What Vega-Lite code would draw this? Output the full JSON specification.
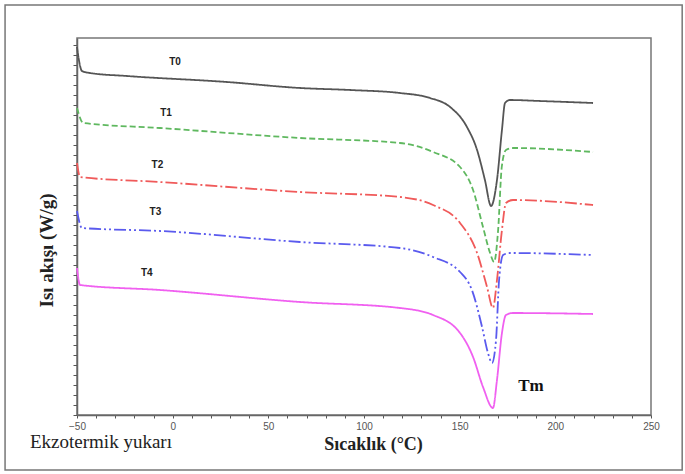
{
  "$schema": "https://vega.github.io/schema/vega-lite/v6.json",
  "width": 574,
  "height": 377,
  "autosize": "none",
  "padding": {"left": 77, "top": 38, "right": 34, "bottom": 59},
  "background": "white",
  "title": {"text": "Ekzotermik yukarı", "orient": "bottom", "anchor": "start", "frame": "group", "dx": -47, "dy": -42, "font": "Liberation Serif", "fontSize": 19, "fontWeight": "normal", "color": "#222"},
  "config": {"view": {"stroke": "#777", "strokeWidth": 1.5}},
  "datasets": {
    "curves": [
      {"s":"T0","t":-50,"v":36.8},{"s":"T0","t":-49,"v":35.5},{"s":"T0","t":-47.4,"v":34.4},{"s":"T0","t":-43.2,"v":34.2},{"s":"T0","t":-23.9,"v":33.9},{"s":"T0","t":28.4,"v":33.3},{"s":"T0","t":66.6,"v":32.7},{"s":"T0","t":92.7,"v":32.5},{"s":"T0","t":118.8,"v":32.2},{"s":"T0","t":134.5,"v":31.7},{"s":"T0","t":145.0,"v":30.8},{"s":"T0","t":153.8,"v":28.8},{"s":"T0","t":159.1,"v":26.5},{"s":"T0","t":163.2,"v":23.5},{"s":"T0","t":166.4,"v":20.9},{"s":"T0","t":169.5,"v":23.5},{"s":"T0","t":172.1,"v":28.5},{"s":"T0","t":173.7,"v":31.2},{"s":"T0","t":176.3,"v":31.5},{"s":"T0","t":192.0,"v":31.4},{"s":"T0","t":219.7,"v":31.2},
      {"s":"T1","t":-50,"v":30.7},{"s":"T1","t":-46.7,"v":29.2},{"s":"T1","t":-6.6,"v":28.7},{"s":"T1","t":66.6,"v":27.7},{"s":"T1","t":118.8,"v":27.2},{"s":"T1","t":136.1,"v":26.3},{"s":"T1","t":150.2,"v":24.8},{"s":"T1","t":157.0,"v":22.5},{"s":"T1","t":162.2,"v":18.8},{"s":"T1","t":165.9,"v":16.2},{"s":"T1","t":168.0,"v":15.3},{"s":"T1","t":170.1,"v":18.5},{"s":"T1","t":172.0,"v":24.8},{"s":"T1","t":174.2,"v":26.5},{"s":"T1","t":177.9,"v":26.7},{"s":"T1","t":219.7,"v":26.3},
      {"s":"T2","t":-50,"v":25.2},{"s":"T2","t":-48.4,"v":23.8},{"s":"T2","t":-6.6,"v":23.3},{"s":"T2","t":66.6,"v":22.3},{"s":"T2","t":118.8,"v":21.8},{"s":"T2","t":136.1,"v":21.0},{"s":"T2","t":150.2,"v":19.2},{"s":"T2","t":159.1,"v":16.2},{"s":"T2","t":164.3,"v":12.8},{"s":"T2","t":167.4,"v":10.7},{"s":"T2","t":169.5,"v":13.5},{"s":"T2","t":172.1,"v":18.5},{"s":"T2","t":174.2,"v":21.2},{"s":"T2","t":177.9,"v":21.5},{"s":"T2","t":219.7,"v":21.0},
      {"s":"T3","t":-50,"v":20.4},{"s":"T3","t":-47.4,"v":18.7},{"s":"T3","t":-6.6,"v":18.4},{"s":"T3","t":66.6,"v":17.3},{"s":"T3","t":118.8,"v":16.7},{"s":"T3","t":136.1,"v":15.8},{"s":"T3","t":150.2,"v":14.3},{"s":"T3","t":156.4,"v":12.5},{"s":"T3","t":161.7,"v":8.8},{"s":"T3","t":164.8,"v":6.2},{"s":"T3","t":166.9,"v":5.2},{"s":"T3","t":169.0,"v":7.5},{"s":"T3","t":170.6,"v":13.5},{"s":"T3","t":172.7,"v":16.0},{"s":"T3","t":176.3,"v":16.2},{"s":"T3","t":219.7,"v":16.0},
      {"s":"T4","t":-50,"v":14.7},{"s":"T4","t":-48.4,"v":13.0},{"s":"T4","t":-6.6,"v":12.5},{"s":"T4","t":66.6,"v":11.3},{"s":"T4","t":118.8,"v":10.7},{"s":"T4","t":136.1,"v":10.0},{"s":"T4","t":150.2,"v":8.2},{"s":"T4","t":157.0,"v":5.8},{"s":"T4","t":162.2,"v":2.8},{"s":"T4","t":167.4,"v":0.7},{"s":"T4","t":169.5,"v":3.5},{"s":"T4","t":172.1,"v":8.2},{"s":"T4","t":174.2,"v":10.0},{"s":"T4","t":177.9,"v":10.2},{"s":"T4","t":219.7,"v":10.1}
    ],
    "labels": [
      {"label":"T0","t":1.2,"v":35.3},
      {"label":"T1","t":-3.5,"v":30.2},
      {"label":"T2","t":-8.0,"v":25.0},
      {"label":"T3","t":-9.0,"v":20.3},
      {"label":"T4","t":-13.5,"v":14.2}
    ],
    "tm": [{"label":"Tm","t":187.3,"v":2.9}]
  },
  "layer": [
    {
      "data": {"name": "curves"},
      "mark": {"type": "line", "interpolate": "monotone", "strokeWidth": 1.8},
      "encoding": {
        "x": {"field": "t", "type": "quantitative", "scale": {"domain": [-50, 250], "nice": false},
          "axis": {"title": "Sıcaklık (°C)", "titleFont": "Liberation Serif", "titleFontSize": 18, "titleFontWeight": "bold", "titleColor": "#222", "titleX": 296, "titlePadding": 4,
            "values": [-50,-40,-30,-20,-10,0,10,20,30,40,50,60,70,80,90,100,110,120,130,140,150,160,170,180,190,200,210,220,230,240,250],
            "tickCount": 200,
            "labelExpr": "datum.value % 50 === 0 ? datum.label : ''", "labelOverlap": false, "labelBound": false, "labelFlush": false, "labelFont": "Liberation Sans", "labelFontSize": 10, "labelColor": "#555", "tickColor": "#555", "tickSize": 3, "domainColor": "#666", "domainWidth": 1.5, "grid": false, "labelPadding": 3}},
        "y": {"field": "v", "type": "quantitative", "scale": {"domain": [0, 37.7], "nice": false},
          "axis": {"title": "Isı akışı (W/g)", "titleFont": "Liberation Serif", "titleFontSize": 19, "titleFontWeight": "bold", "titleColor": "#222", "titlePadding": 16, "titleY": 212,
            "values": [0,1,2,3,4,5,6,7,8,9,10,11,12,13,14,15,16,17,18,19,20,21,22,23,24,25,26,27,28,29,30,31,32,33,34,35,36,37],
            "tickCount": 200,
            "labels": false, "tickColor": "#555", "tickSize": 4, "domainColor": "#666", "domainWidth": 1.5, "grid": false}},
        "color": {"field": "s", "type": "nominal", "legend": null, "scale": {"domain": ["T0","T1","T2","T3","T4"], "range": ["#555555","#5fb85f","#f05a5a","#5a5aee","#f060f0"]}},
        "strokeDash": {"field": "s", "type": "nominal", "legend": null, "scale": {"domain": ["T0","T1","T2","T3","T4"], "range": [[1,0],[6,3],[12,3,2,3],[12,3,2,3,2,3],[1,0]]}}
      }
    },
    {
      "data": {"name": "labels"},
      "mark": {"type": "text", "font": "Liberation Sans", "fontSize": 10, "fontWeight": "bold", "color": "#222"},
      "encoding": {
        "x": {"field": "t", "type": "quantitative"},
        "y": {"field": "v", "type": "quantitative"},
        "text": {"field": "label"}
      }
    },
    {
      "data": {"name": "tm"},
      "mark": {"type": "text", "font": "Liberation Serif", "fontSize": 17, "fontWeight": "bold", "color": "#111"},
      "encoding": {
        "x": {"field": "t", "type": "quantitative"},
        "y": {"field": "v", "type": "quantitative"},
        "text": {"field": "label"}
      }
    },
    {
      "data": {"values": [{}]},
      "mark": {"type": "rect", "filled": false, "stroke": "#777", "strokeWidth": 1.5},
      "encoding": {
        "x": {"datum": -87.6}, "x2": {"datum": 266.3},
        "y": {"datum": 41.0}, "y2": {"datum": -5.5}
      }
    }
  ]
}
